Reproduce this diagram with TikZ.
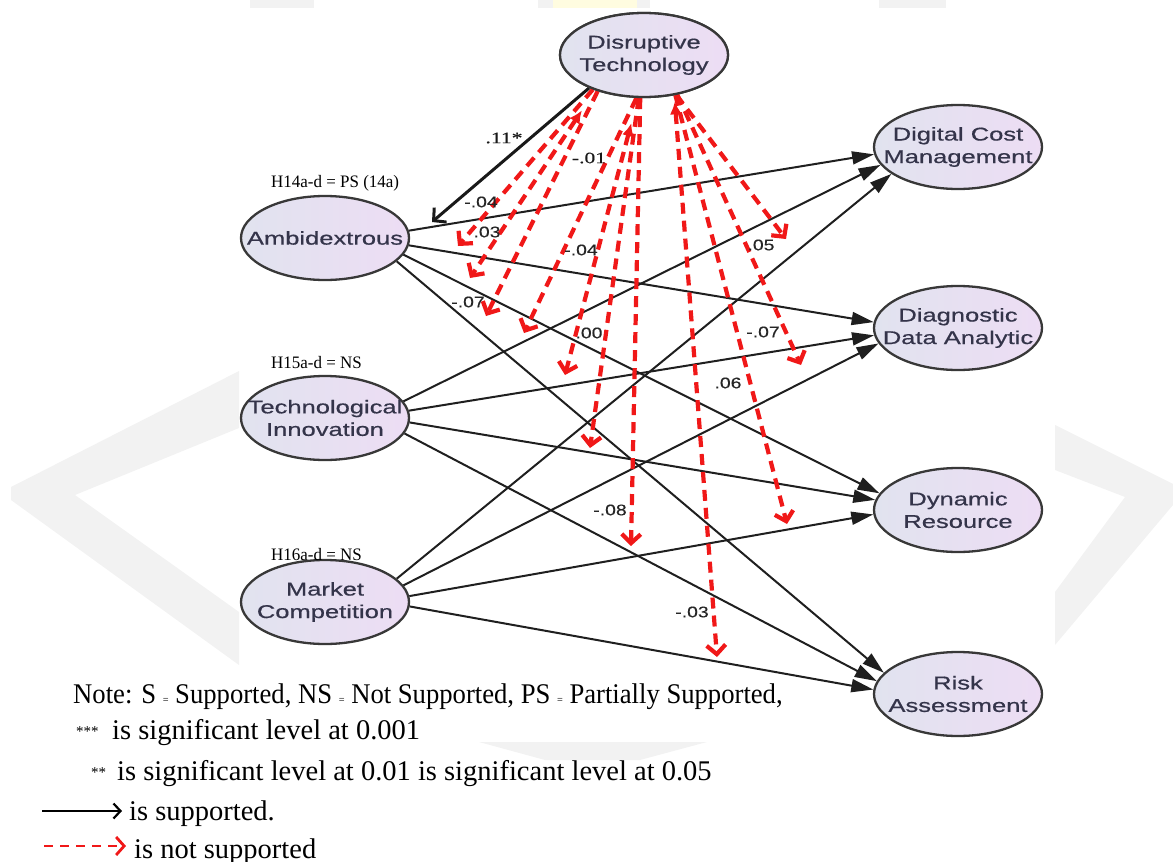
\documentclass[tikz,border=0pt]{standalone}
\usepackage{fontspec}
\usetikzlibrary{shapes.geometric,arrows.meta}

% fonts: stretched sans for construct names and coefficients, serif for notes
\newfontfamily\ellfont[FakeStretch=1.38,FakeBold=0.6]{Liberation Sans}
\newfontfamily\coeffont[FakeStretch=1.25,FakeBold=0.3]{Liberation Sans}
\newfontfamily\coefserif[FakeStretch=1.35,FakeBold=0.3]{Liberation Serif}
\newfontfamily\hypfont[FakeStretch=0.97]{Liberation Serif}
\newfontfamily\notefont[FakeStretch=0.935]{Liberation Serif}
\newfontfamily\legfont{Liberation Serif}

\definecolor{ellleft}{HTML}{E1E3EF}
\definecolor{ellright}{HTML}{EDDDF4}
\definecolor{elltext}{HTML}{34344A}
\definecolor{wmgray}{HTML}{F2F2F2}
\definecolor{wmyellow}{HTML}{FFFCE0}
\definecolor{modred}{HTML}{F01818}

\newcommand{\smalleq}{{\fontsize{11}{11}\selectfont =}}

\begin{document}
\begin{tikzpicture}[x=1pt,y=-1pt,
  latent/.style={ellipse, draw=black!78, line width=2.3pt,
    minimum width=168pt, minimum height=84pt, inner sep=0pt,
    left color=ellleft, right color=ellright},
  ltext/.style={font=\ellfont\fontsize{18.5}{22.5}\selectfont, text=elltext,
    align=center, inner sep=0pt},
  effect/.style={draw=black!88, line width=2pt,
    -{Triangle[length=22pt,width=13pt]}},
  moder/.style={draw=modred, line width=4.2pt, dash pattern=on 11pt off 7pt,
    -{Straight Barb[length=9pt,width=19pt]}},
  moderup/.style={moder, {Latex[length=13pt,width=12pt]}-{Straight Barb[length=9pt,width=19pt]}},
  direct/.style={draw=black!90, line width=3pt,
    -{Straight Barb[length=9pt,width=19pt]}},
  coef/.style={font=\coeffont\fontsize{15.5}{15.5}\selectfont, text=black!85, inner sep=0pt},
  coefs/.style={font=\coefserif\fontsize{16}{16}\selectfont, text=black!90, inner sep=0pt},
  hyp/.style={font=\hypfont\fontsize{17.5}{17.5}\selectfont, anchor=base west, inner sep=0pt},
  legline/.style={font=\legfont\fontsize{28.5}{28.5}\selectfont, anchor=base west, inner sep=0pt},
  stars/.style={font=\legfont\fontsize{15}{15}\selectfont, anchor=base west, inner sep=0pt},
]
\useasboundingbox (0,0) rectangle (1173,862);

% faint watermark behind the model
\fill[wmgray] (239,371) -- (11,487) -- (11,500) -- (239,665) -- (239,612) -- (75,495) -- (239,428) -- cycle;
\fill[wmgray] (1055,425) -- (1173,484) -- (1173,505) -- (1055,645) -- (1055,592) -- (1125,497) -- (1055,470) -- cycle;
\fill[wmgray] (250,0) rectangle (314,8);
\fill[wmgray] (538,0) rectangle (650,8);
\fill[wmyellow] (553,0) rectangle (637,8);
\fill[wmgray] (879,0) rectangle (946,8);
\fill[wmgray] (479,742) -- (707,742) -- (640,760) -- (545,760) -- cycle;

% constructs
\node[latent] (dt)  at (644,55)  {};
\node[latent] (amb) at (325,238) {};
\node[latent] (ti)  at (325,418) {};
\node[latent] (mc)  at (325,602) {};
\node[latent] (dcm) at (958,147) {};
\node[latent] (dda) at (958,328) {};
\node[latent] (dr)  at (958,510) {};
\node[latent] (ra)  at (958,694) {};

% end points of the arrows leaving disruptive technology
\coordinate (tamb) at (432,222);
\coordinate (m1)  at (458,246);
\coordinate (m2)  at (470,278);
\coordinate (m3)  at (486,316);
\coordinate (m4)  at (524,333);
\coordinate (m5)  at (565,375);
\coordinate (m6)  at (590,448);
\coordinate (m7)  at (631,546);
\coordinate (m8)  at (717,657);
\coordinate (m9)  at (786,239);
\coordinate (m10) at (801,365);
\coordinate (m11) at (787,524);

% direct effects
\draw[effect] (amb.5)   -- (dcm.185);
\draw[effect] (amb.-5)  -- (dda.176);
\draw[effect] (amb.-12) -- (dr.168);
\draw[effect] (amb.-18) -- (ra.164);
\draw[effect] (ti.12)   -- (dcm.193);
\draw[effect] (ti.5)    -- (dda.185);
\draw[effect] (ti.-3)   -- (dr.173);
\draw[effect] (ti.-11)  -- (ra.171);
\draw[effect] (mc.18)   -- (dcm.202);
\draw[effect] (mc.12)   -- (dda.191);
\draw[effect] (mc.4)    -- (dr.183);
\draw[effect] (mc.-3)   -- (ra.177);

% effects of disruptive technology
\draw[direct] (dt.211) -- (tamb);
\draw[moder]   (dt.214) -- (m1);
\draw[moderup, shorten <=24pt] (dt.216) -- (m2);
\draw[moder]   (dt.218) -- (m3);
\draw[moder]   (dt.260) -- (m4);
\draw[moderup, shorten <=26pt] (dt.262) -- (m5);
\draw[moder]   (dt.263) -- (m6);
\draw[moder]   (dt.265) -- (m7);
\draw[moderup, shorten <=6pt] (dt.307) -- (m8);
\draw[moder]   (dt.309) -- (m9);
\draw[moder]   (dt.310) -- (m10);
\draw[moder]   (dt.308) -- (m11);

% outline of disruptive technology redrawn over the line starts
\draw[draw=black!78, line width=2.3pt, left color=ellleft, right color=ellright]
  (dt.center) ellipse [x radius=84pt, y radius=42pt];

% construct names
\node[ltext] (dtt)  at (dt)  {Disruptive\\Technology};
\node[ltext] (ambt) at (amb) {Ambidextrous};
\node[ltext] (tit)  at (ti)  {Technological\\Innovation};
\node[ltext] (mct)  at (mc)  {Market\\Competition};
\node[ltext] (dcmt) at (dcm) {Digital Cost\\Management};
\node[ltext] (ddat) at (dda) {Diagnostic\\Data Analytic};
\node[ltext] (drt)  at (dr)  {Dynamic\\Resource};
\node[ltext] (rat)  at (ra)  {Risk\\Assessment};

% coefficients
\node[coefs] (c1)  at (504,138) {.11*};
\node[coefs] (c2)  at (589,158) {-.01};
\node[coef]  (c3)  at (481,202) {-.04};
\node[coef]  (c4)  at (487,232) {.03};
\node[coef]  (c5)  at (581,250) {-.04};
\node[coef]  (c6)  at (468,302) {-.07};
\node[coef]  (c7)  at (589,333) {.00};
\node[coef]  (c8)  at (610,510) {-.08};
\node[coef]  (c9)  at (692,612) {-.03};
\node[coef]  (c10) at (761,245) {.05};
\node[coef]  (c11) at (763,332) {-.07};
\node[coef]  (c12) at (728,383) {.06};

% hypothesis results
\node[hyp] (h14) at (271,187) {H14a-d = PS (14a)};
\node[hyp] (h15) at (271,368) {H15a-d = NS};
\node[hyp] (h16) at (271,560) {H16a-d = NS};

% notes and legend
\node[legline, font=\notefont\fontsize{28.5}{28.5}\selectfont] (n1) at (73,703)
  {Note: S \smalleq{} Supported, NS \smalleq{} Not Supported, PS \smalleq{} Partially Supported,};
\node[stars] (s3) at (76,736) {***};
\node[legline] (n2) at (112,739) {is significant level at 0.001};
\node[stars] (s2) at (91,777) {**};
\node[legline] (n3) at (117,780) {is significant level at 0.01 is significant level at 0.05};
\coordinate (la1) at (42,811);
\coordinate (la2) at (122,811);
\draw[black, line width=2.2pt, -{Straight Barb[length=7pt,width=15pt]}] (la1) -- (la2);
\node[legline] (n4) at (129,820) {is supported.};
\coordinate (lb1) at (44,846);
\coordinate (lb2) at (126,846);
\draw[modred, line width=2.8pt, dash pattern=on 9pt off 7pt, -{Straight Barb[length=8pt,width=18pt]}] (lb1) -- (lb2);
\node[legline] (n5) at (134,858) {is not supported};
\end{tikzpicture}
\end{document}
